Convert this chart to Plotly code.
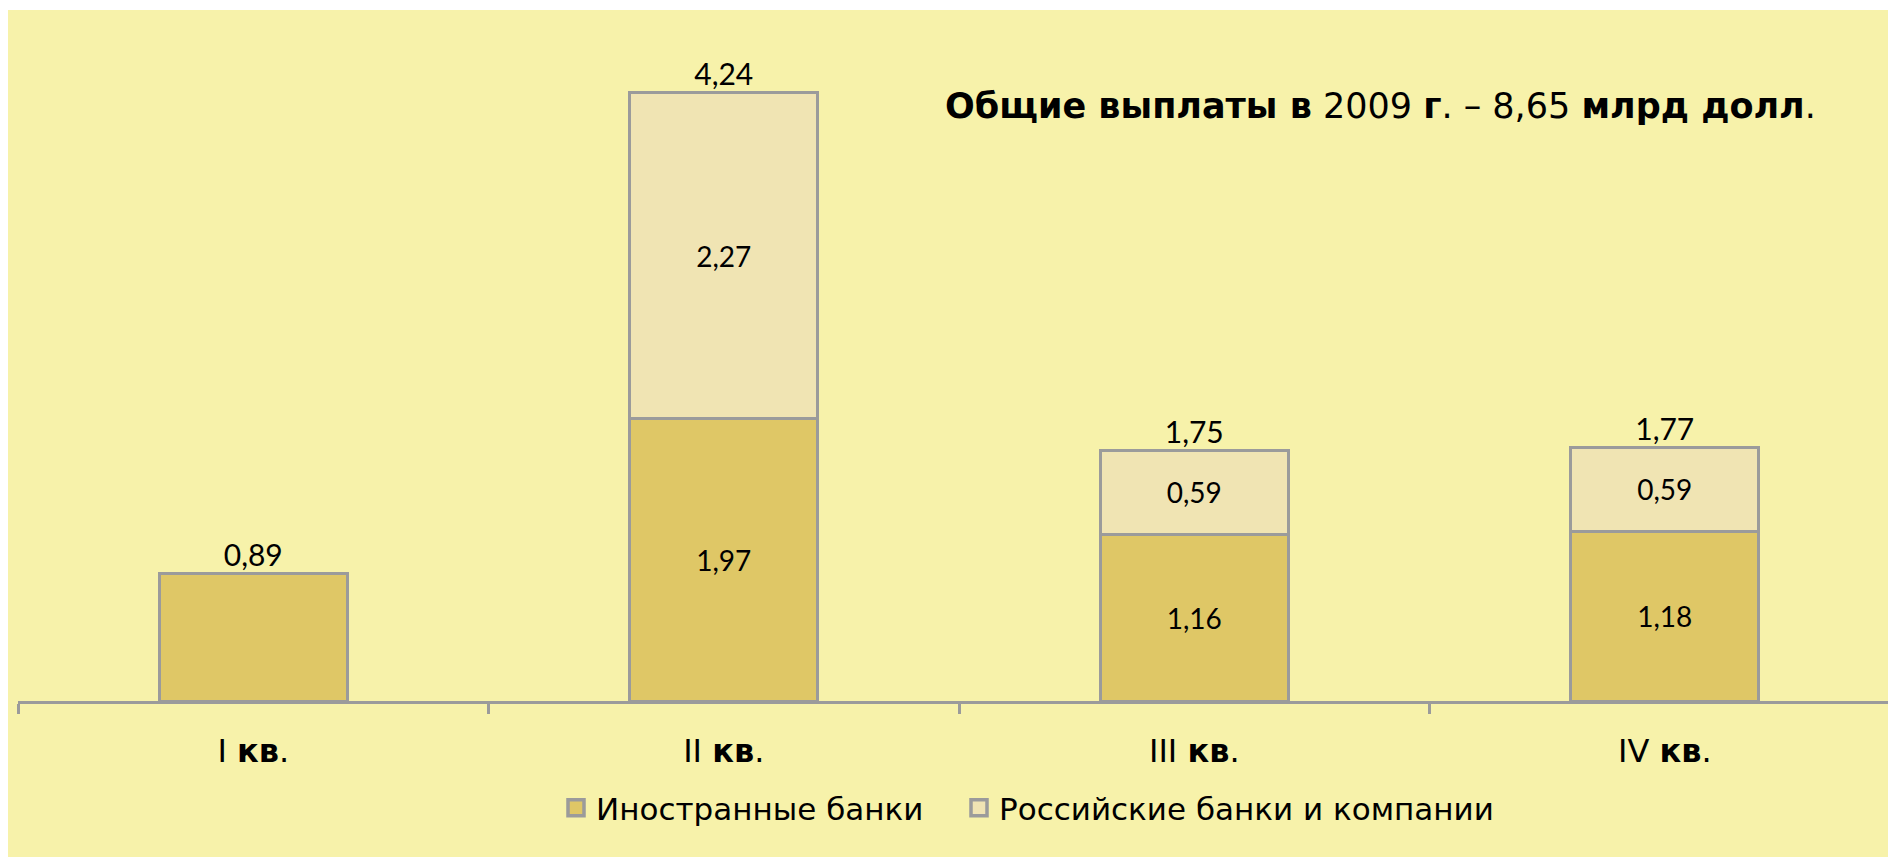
import plotly.graph_objects as go

quarters = ["I", "II", "III", "IV"]
foreign = [0.89, 1.97, 1.16, 1.18]
russian = [None, 2.27, 0.59, 0.59]
totals = [0.89, 4.24, 1.75, 1.77]
foreign_labels = ["", "1,97", "1,16", "1,18"]
russian_labels = ["", "2,27", "0,59", "0,59"]
total_labels = ["0,89", "4,24", "1,75", "1,77"]
series_names = ["Иностранные банки", "Российские банки и компании"]
colors = ["#dfc766", "#f0e4b3"]

cats = [f"{q} <b>кв</b>." for q in quarters]

W, H = 1896, 857
ml, mr, mt = 10, 4, 2
axis_y = 693
mb = H - axis_y
plot_h = axis_y - mt
plot_w = W - ml - mr
px_per_unit = 143.4
ymax = plot_h / px_per_unit

FONT = "Lato"
WIDE = "DejaVu Sans"
edge = "#9b9b9b"

fig = go.Figure()
fig.add_trace(go.Bar(
    x=cats, y=foreign, name=series_names[0], showlegend=False,
    marker=dict(color=colors[0], line=dict(color=edge, width=3)),
    text=foreign_labels, textposition="inside", insidetextanchor="middle",
    textfont=dict(family=FONT, size=28, color="black"), textangle=0,
    hoverinfo="skip",
))
fig.add_trace(go.Bar(
    x=cats, y=russian, name=series_names[1], showlegend=False,
    marker=dict(color=colors[1], line=dict(color=edge, width=3)),
    text=russian_labels, textposition="inside", insidetextanchor="middle",
    textfont=dict(family=FONT, size=28, color="black"), textangle=0,
    hoverinfo="skip",
))
fig.add_trace(go.Scatter(
    x=cats, y=totals, mode="text", text=total_labels,
    textposition="top center", showlegend=False,
    textfont=dict(family=FONT, size=30, color="black"),
    hoverinfo="skip",
))
# legend entries (same two series), each in its own legend box
for name, col, lg in zip(series_names, colors, ["legend", "legend2"]):
    fig.add_trace(go.Scatter(
        x=[None], y=[None], mode="markers", name=name, legend=lg,
        marker=dict(symbol="square", size=16, color=col,
                    line=dict(color=edge, width=3.5)),
        hoverinfo="skip",
    ))


def px_to_paper_x(fx):
    return (fx - ml) / plot_w


def px_to_paper_y(fy):
    return (axis_y - fy) / plot_h


fig.add_shape(type="rect", xref="paper", yref="paper", layer="below",
              x0=px_to_paper_x(0), x1=px_to_paper_x(1910),
              y0=px_to_paper_y(870), y1=px_to_paper_y(2),
              fillcolor="#f7f2aa", line=dict(width=0))

fig.add_annotation(
    xref="paper", yref="paper", x=px_to_paper_x(1372), y=px_to_paper_y(98),
    xanchor="center", yanchor="middle", showarrow=False,
    text="<b>Общие выплаты в</b> 2009 <b>г</b>. – 8,65 <b>млрд долл</b>.",
    font=dict(family=WIDE, size=35, color="black"),
)

legend_common = dict(orientation="h", xanchor="left", yanchor="middle",
                     font=dict(family=WIDE, size=31, color="black"),
                     bgcolor="rgba(0,0,0,0)", itemsizing="trace")

fig.update_layout(
    width=W, height=H,
    margin=dict(l=ml, r=mr, t=mt, b=mb),
    paper_bgcolor="white", plot_bgcolor="rgba(0,0,0,0)",
    barmode="stack", bargap=0.6,
    showlegend=True,
    legend=dict(x=px_to_paper_x(548), y=px_to_paper_y(800), **legend_common),
    legend2=dict(x=px_to_paper_x(951), y=px_to_paper_y(800), **legend_common),
    xaxis=dict(showline=True, linecolor=edge, linewidth=3,
               ticks="outside", tickson="boundaries", ticklen=10,
               tickcolor=edge, tickwidth=3, showgrid=False,
               tickfont=dict(family=WIDE, size=32, color="black"),
               ticklabelstandoff=20, fixedrange=True),
    yaxis=dict(visible=False, range=[0, ymax], showgrid=False, zeroline=False,
               fixedrange=True),
)

fig.write_html("out.html")
